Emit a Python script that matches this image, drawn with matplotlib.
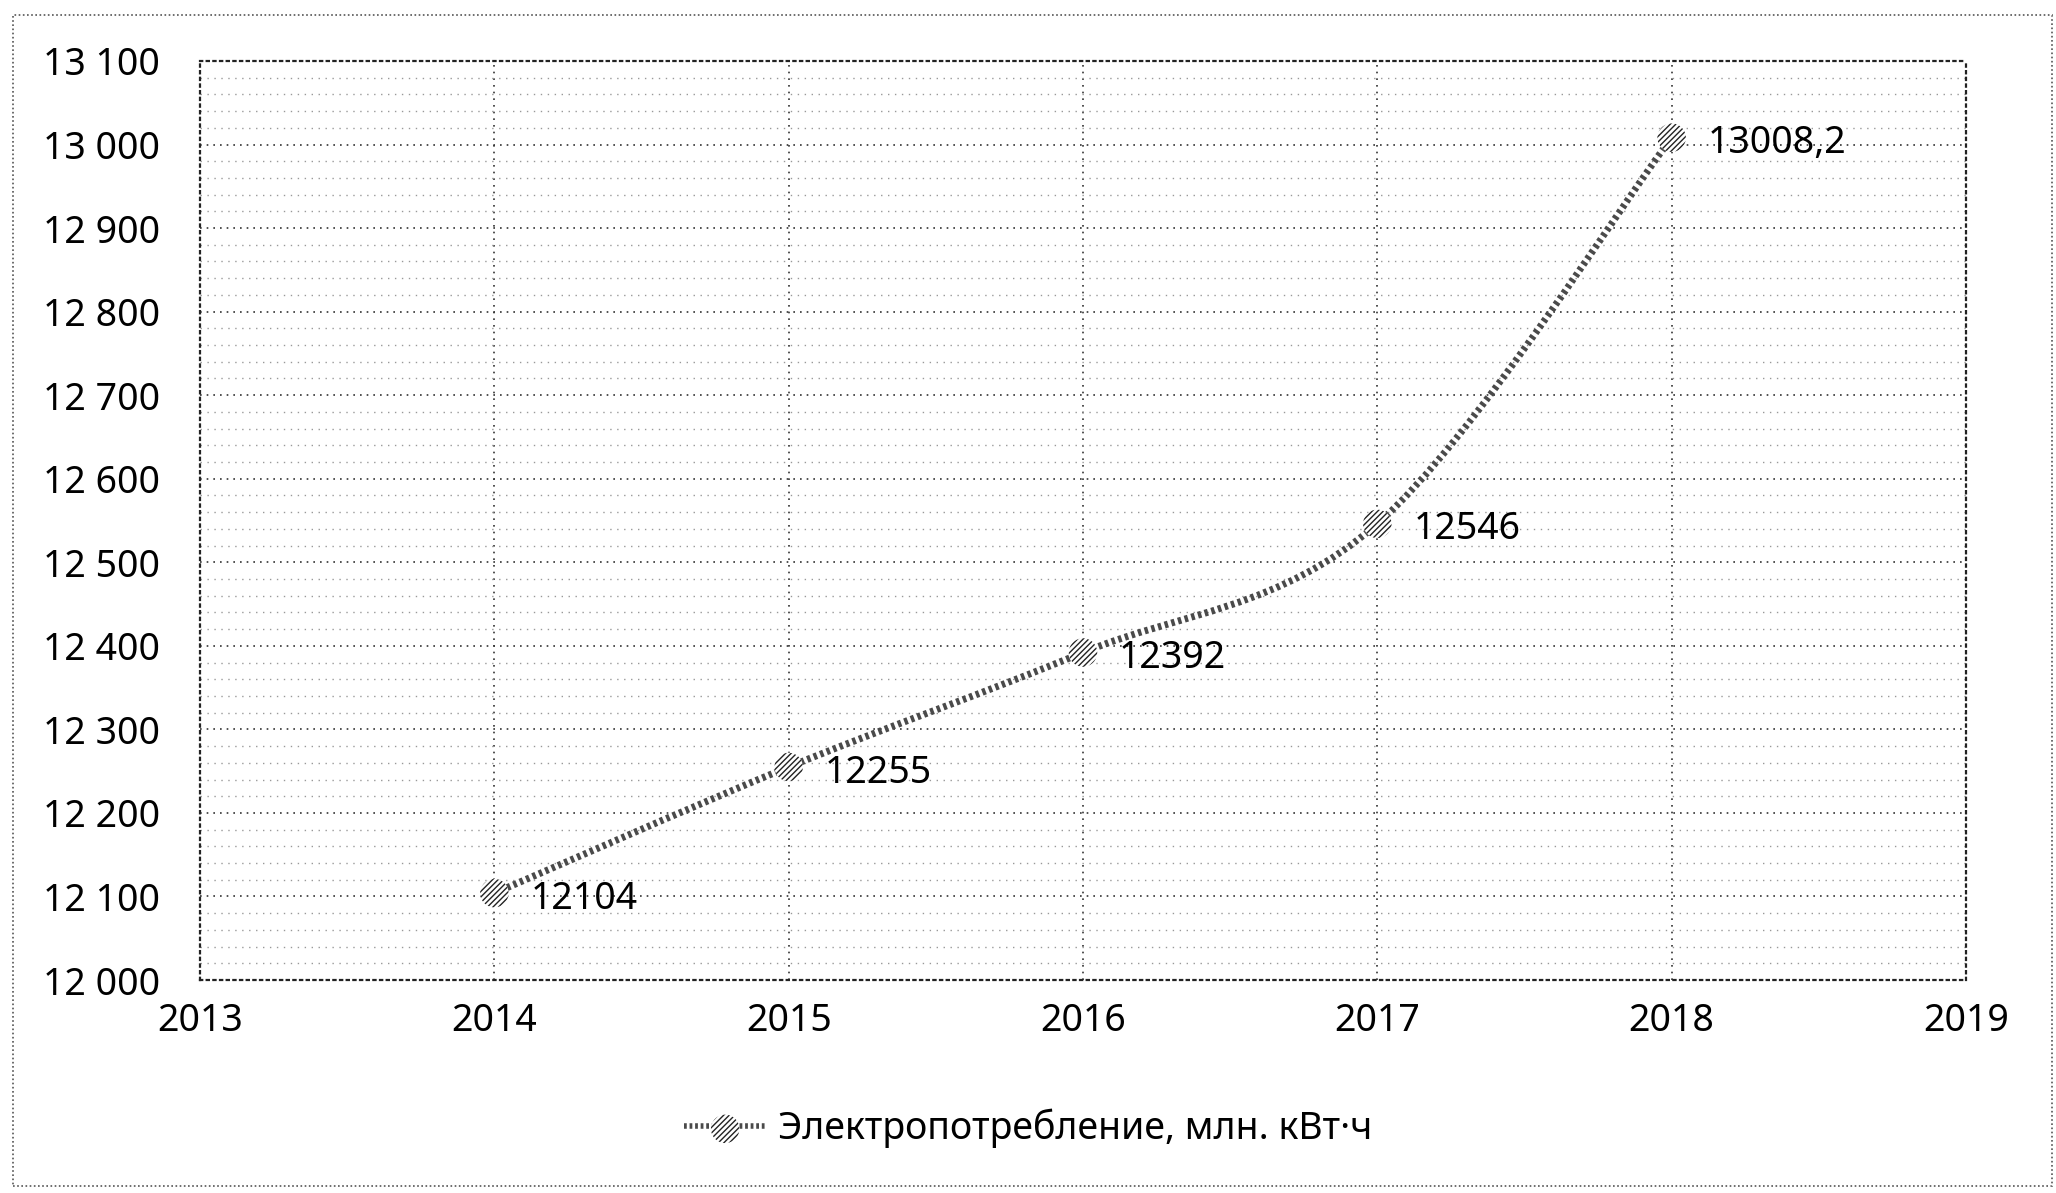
import matplotlib.pyplot as plt
import numpy as np
from matplotlib.path import Path
from matplotlib.patches import PathPatch, Rectangle
from matplotlib.ticker import FuncFormatter, MultipleLocator
from matplotlib.legend_handler import HandlerTuple
from matplotlib.lines import Line2D

plt.rcParams['font.family'] = ['Noto Sans', 'DejaVu Sans']

years = [2014, 2015, 2016, 2017, 2018]
consumption = [12104, 12255, 12392, 12546, 13008.2]
value_labels = ['12104', '12255', '12392', '12546', '13008,2']
series_name = 'Электропотребление, млн. кВт·ч'

LINE_COLOR = '#4a4a4a'
FS = 27


def smooth_path(xs, ys, tension=1 / 6):
    """Bezier path through the points, like a spreadsheet 'smoothed line'."""
    pts = np.column_stack([xs, ys]).astype(float)
    verts = [pts[0]]
    codes = [Path.MOVETO]
    n = len(pts)
    for i in range(n - 1):
        p0 = pts[i - 1] if i > 0 else pts[i]
        p1 = pts[i]
        p2 = pts[i + 1]
        p3 = pts[i + 2] if i + 2 < n else pts[i + 1]
        c1 = p1 + (p2 - p0) * tension
        c2 = p2 - (p3 - p1) * tension
        verts += [c1, c2, p2]
        codes += [Path.CURVE4] * 3
    return Path(verts, codes)


fig = plt.figure(figsize=(20.56, 11.93), dpi=100)
ax = fig.add_axes([0.0973, 0.1785, 0.8589, 0.7704])

# outer dotted frame of the chart
fig.patches.append(Rectangle((13 / 2056, 1 - 1186 / 1193), (2052 - 13) / 2056, (1186 - 15) / 1193,
                             transform=fig.transFigure, fill=False, edgecolor='#555555',
                             linestyle=(0, (1, 1.5)), linewidth=1.2))

ax.set_xlim(2013, 2019)
ax.set_ylim(12000, 13100)
ax.xaxis.set_major_locator(MultipleLocator(1))
ax.yaxis.set_major_locator(MultipleLocator(100))
ax.yaxis.set_minor_locator(MultipleLocator(20))
ax.yaxis.set_major_formatter(FuncFormatter(lambda v, _: f'{int(v):,}'.replace(',', ' ')))
ax.xaxis.set_major_formatter(FuncFormatter(lambda v, _: f'{int(v)}'))

ax.grid(which='major', axis='both', color='#333333', linestyle=(0, (1, 3)), linewidth=1.2)
ax.grid(which='minor', axis='y', color='#999999', linestyle=(0, (1, 4)), linewidth=1.0)
ax.tick_params(which='both', length=0, labelsize=FS, colors='black')
ax.tick_params(axis='y', pad=29)
ax.tick_params(axis='x', pad=16)
for sp in ax.spines.values():
    sp.set_linestyle((0, (1, 2)))
    sp.set_color('#222222')
    sp.set_linewidth(1.6)

# smoothed series line
curve = PathPatch(smooth_path(years, consumption), facecolor='none', edgecolor=LINE_COLOR,
                  linewidth=5, linestyle=(0, (0.5, 0.5)), zorder=3)
ax.add_patch(curve)
pts = ax.scatter(years, consumption, s=420, marker='o', facecolor='white', edgecolor='#222222',
                 hatch='//////', linewidth=0, zorder=4)

for x, y, lab in zip(years, consumption, value_labels):
    ax.annotate(lab, (x, y), xytext=(26, -4), textcoords='offset points',
                fontsize=FS, va='center', ha='left', zorder=5)

line_proxy = Line2D([], [], color=LINE_COLOR, linewidth=4, linestyle=(0, (0.5, 0.5)))
fig.legend([(line_proxy, pts)], [series_name], handler_map={tuple: HandlerTuple(ndivide=1)},
           loc='center', bbox_to_anchor=(0.5, 1 - 1128 / 1193), frameon=False, fontsize=FS,
           handlelength=2.2, handletextpad=0.3, scatterpoints=1)

fig.savefig('out.png', dpi=100)
